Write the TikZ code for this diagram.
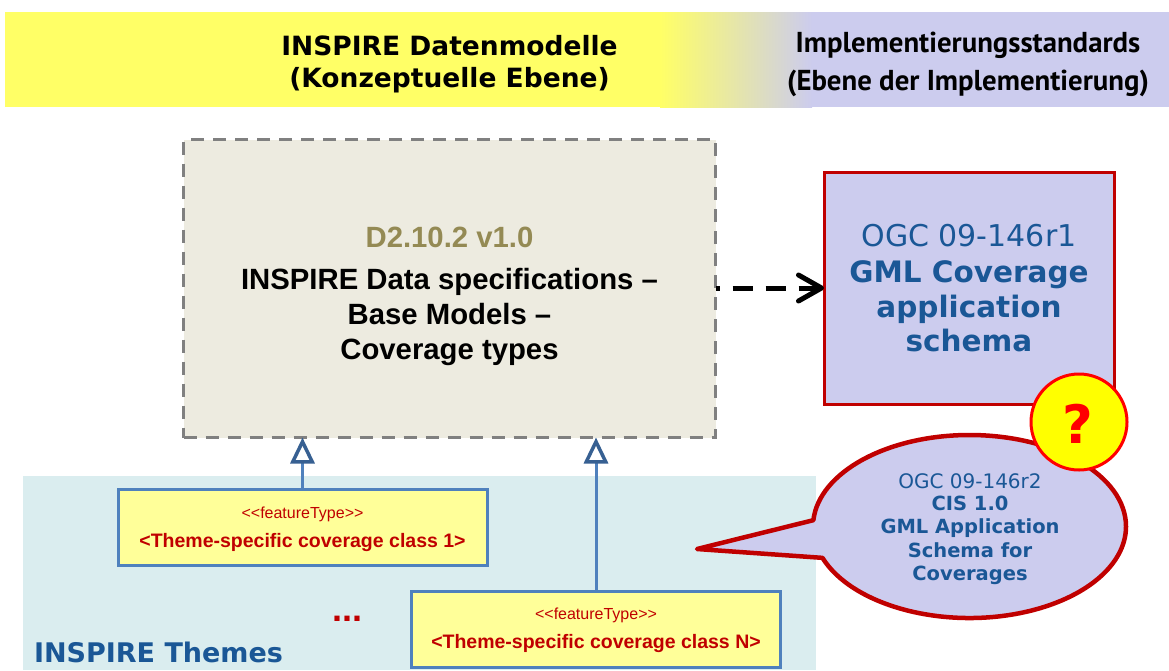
\documentclass[tikz,border=0pt]{standalone}
\usepackage{fontspec}
\setmainfont{Liberation Sans}
\newfontfamily\dejavu{DejaVu Sans}
\newfontfamily\headfont{PT Sans}
\usetikzlibrary{arrows.meta,shapes.geometric,shapes.callouts}
\definecolor{bandyellow}{HTML}{FFFF66}
\definecolor{lilac}{HTML}{CCCCEE}
\definecolor{sand}{HTML}{EDEBE0}
\definecolor{olive}{HTML}{948A54}
\definecolor{darkred}{HTML}{C00000}
\definecolor{inkblue}{HTML}{1A5796}
\definecolor{panel}{HTML}{DAEDEF}
\definecolor{classfill}{HTML}{FFFF99}
\definecolor{classline}{HTML}{4F81BD}
\definecolor{arrowblue}{HTML}{376092}
\definecolor{pureyellow}{HTML}{FFFF00}
\definecolor{purered}{HTML}{FF0000}
\newcommand{\fs}[2]{\fontsize{#1}{#2}\selectfont}
\tikzset{
  classbox/.style={draw=classline,line width=3pt,fill=classfill,minimum width=369pt,minimum height=76pt,inner sep=0pt,outer sep=0pt},
  realize/.style={draw=classline,line width=3pt,-{Triangle[open,length=26pt,width=24pt,fill=white,color=arrowblue,line width=3.5pt]}},
  txt/.style={inner sep=0pt,outer sep=0pt,align=center}
}
\begin{document}
\begin{tikzpicture}[x=1pt,y=-1pt]
\useasboundingbox (0,0) rectangle (1169,670);
% header band
\fill[bandyellow] (5,12) rectangle (660,107);
\shade[left color=bandyellow,right color=lilac,shading=axis] (660,12) rectangle (812,107);
\fill[lilac] (812,12) rectangle (1169,107);
\node[txt,font=\dejavu\bfseries\fs{26.5}{32}] (h1) at (449.5,64) {INSPIRE Datenmodelle\\(Konzeptuelle Ebene)};
\node[txt,font=\headfont\bfseries\fs{28.8}{38}] (h2) at (968,64) {Implementierungsstandards\\(Ebene der Implementierung)};
% themes panel
\fill[panel] (23,476) rectangle (816,670);
\node[txt,anchor=base west,font=\dejavu\bfseries\fs{27}{30},text=inkblue] (themes) at (34,662) {INSPIRE Themes};
% main box
\node[draw=gray,dash pattern=on 13pt off 9pt,line width=3.5pt,fill=sand,minimum width=532pt,minimum height=298pt,inner sep=0pt,outer sep=0pt] (main) at (449.5,288.5) {};
\node[txt,font=\bfseries\fs{29.3}{30},text=olive] (ver) at (449.5,237) {D2.10.2 v1.0};
\node[txt,font=\bfseries\fs{29.3}{35}] (title) at (449.5,316.5) {INSPIRE Data specifications –\\Base Models –\\Coverage types};
% OGC box
\node[draw=darkred,line width=3pt,fill=lilac,minimum width=290pt,minimum height=232pt,inner sep=0pt,outer sep=0pt] (ogc) at (969,288) {};
\node[txt,font=\dejavu\fs{30}{30},text=inkblue] (ogc1) at (969,236) {OGC 09-146r1};
\node[txt,font=\dejavu\bfseries\fs{29.5}{34.7},text=inkblue] (ogc2) at (969,306.5) {GML Coverage\\application\\schema};
% dashed dependency
\draw[line width=5pt,dash pattern=on 20pt off 13pt,dash phase=16pt,-{Straight Barb[length=23pt,width=26pt,line width=5pt,round]}] (main.east |- 0,288) -- (ogc.west |- 0,288);
% class boxes
\node[classbox] (c1) at (302.5,527.5) {};
\node[txt,font=\fs{16}{18},text=darkred] (c1s) at (302.5,514.5) {{<}{<}featureType{>}{>}};
\node[txt,font=\bfseries\fs{19.5}{22},text=darkred] (c1n) at (302.5,542) {<Theme-specific coverage class 1>};
\node[classbox] (cn) at (596,629) {};
\node[txt,font=\fs{16}{18},text=darkred] (cns) at (596,615.5) {{<}{<}featureType{>}{>}};
\node[txt,font=\bfseries\fs{19.5}{22},text=darkred] (cnn) at (596,643) {<Theme-specific coverage class N>};
\node[txt,font=\bfseries\fs{36}{40},text=darkred] (dots) at (347,619) {...};
\draw[realize] (c1.north) -- (c1.north |- main.south);
\draw[realize] (cn.north) -- (cn.north |- main.south);
% callout
\node[ellipse callout,draw=darkred,line width=4.5pt,line join=round,fill=lilac,minimum width=313pt,minimum height=183pt,inner sep=0pt,outer sep=0pt,callout absolute pointer={(697,549)},callout pointer arc=24] (bubble) at (969.5,526.5) {};
\node[txt,font=\dejavu\fs{20}{23.3},text=inkblue] (b1) at (970,481) {OGC 09-146r2};
\node[txt,font=\dejavu\bfseries\fs{19.5}{23.3},text=inkblue] (b2) at (970,540.5) {CIS 1.0\\GML Application\\Schema for\\Coverages};
% question
\node[circle,draw=purered,line width=3pt,fill=pureyellow,minimum size=96pt,inner sep=0pt] (q) at (1079,422) {};
\node[txt,font=\dejavu\bfseries\fs{53}{56},text=purered] (qm) at (1078,424) {?};
\end{tikzpicture}
\end{document}
